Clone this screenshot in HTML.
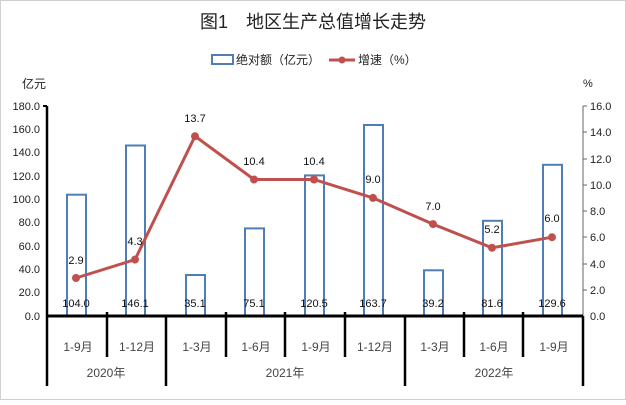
<!DOCTYPE html><html><head><meta charset="utf-8"><style>body{margin:0;background:#fff}</style></head><body>
<svg width="626" height="400" xmlns="http://www.w3.org/2000/svg" font-family="Liberation Sans, Noto Sans CJK SC, sans-serif">
<rect x="0.5" y="0.5" width="625" height="399" fill="#fff" stroke="#d0d0d0"/>
<text x="313" y="28" font-size="18" text-anchor="middle" fill="#222">图1　地区生产总值增长走势</text>
<rect x="212" y="55" width="21" height="9" fill="none" stroke="#4f7db5" stroke-width="2"/>
<text x="236" y="64" font-size="12" fill="#222">绝对额（亿元）</text>
<line x1="329" y1="60" x2="355" y2="60" stroke="#c0504d" stroke-width="3"/><circle cx="342" cy="60" r="3.5" fill="#c0504d"/>
<text x="358" y="64" font-size="12" fill="#222">增速（%）</text>
<text x="22" y="88" font-size="12" fill="#222">亿元</text>
<text x="583" y="87" font-size="11" fill="#222">%</text>
<g font-size="11" fill="#222" text-anchor="end">
<text x="40" y="110">180.0</text><text x="40" y="133">160.0</text><text x="40" y="156">140.0</text><text x="40" y="180">120.0</text><text x="40" y="203">100.0</text><text x="40" y="226">80.0</text><text x="40" y="250">60.0</text><text x="40" y="273">40.0</text><text x="40" y="296">20.0</text><text x="40" y="320">0.0</text>
</g>
<g font-size="11" fill="#222">
<text x="590" y="110">16.0</text><text x="590" y="136">14.0</text><text x="590" y="163">12.0</text><text x="590" y="189">10.0</text><text x="590" y="215">8.0</text><text x="590" y="241">6.0</text><text x="590" y="268">4.0</text><text x="590" y="294">2.0</text><text x="590" y="320">0.0</text>
</g>
<line x1="47" y1="106" x2="47" y2="316" stroke="#000" stroke-width="2.5"/>
<line x1="43" y1="106" x2="47" y2="106" stroke="#000" stroke-width="2"/>
<line x1="583" y1="106" x2="583" y2="316" stroke="#666" stroke-width="1"/>
<g stroke="#666"><line x1="583" y1="106" x2="587" y2="106"/><line x1="583" y1="132" x2="587" y2="132"/><line x1="583" y1="159" x2="587" y2="159"/><line x1="583" y1="185" x2="587" y2="185"/><line x1="583" y1="211" x2="587" y2="211"/><line x1="583" y1="237" x2="587" y2="237"/><line x1="583" y1="264" x2="587" y2="264"/><line x1="583" y1="290" x2="587" y2="290"/></g>
<g fill="none" stroke="#4f7db5" stroke-width="2">
<rect x="67" y="194.7" width="19" height="121.3"/>
<rect x="126" y="145.5" width="19" height="170.5"/>
<rect x="186" y="275" width="19" height="41"/>
<rect x="245" y="228.4" width="19" height="87.6"/>
<rect x="305" y="175.4" width="19" height="140.6"/>
<rect x="364" y="125" width="19" height="191"/>
<rect x="424" y="270.3" width="19" height="45.7"/>
<rect x="483" y="220.8" width="19" height="95.2"/>
<rect x="543" y="164.8" width="19" height="151.2"/>
</g>
<polyline points="76,278 135,259.6 195,136.2 254,179.5 314,179.5 373,197.9 433,224.1 492,247.8 552,237.2" fill="none" stroke="#c0504d" stroke-width="3"/>
<g fill="#c0504d"><circle cx="76" cy="278" r="4"/><circle cx="135" cy="259.6" r="4"/><circle cx="195" cy="136.2" r="4"/><circle cx="254" cy="179.5" r="4"/><circle cx="314" cy="179.5" r="4"/><circle cx="373" cy="197.9" r="4"/><circle cx="433" cy="224.1" r="4"/><circle cx="492" cy="247.8" r="4"/><circle cx="552" cy="237.2" r="4"/></g>
<g font-size="11" fill="#111" text-anchor="middle">
<text x="76" y="264">2.9</text><text x="135" y="245">4.3</text><text x="195" y="122">13.7</text><text x="254" y="165">10.4</text><text x="314" y="165">10.4</text><text x="373" y="183">9.0</text><text x="433" y="210">7.0</text><text x="492" y="233">5.2</text><text x="552" y="222">6.0</text>
<text x="76" y="307">104.0</text><text x="135" y="307">146.1</text><text x="195" y="307">35.1</text><text x="254" y="307">75.1</text><text x="314" y="307">120.5</text><text x="373" y="307">163.7</text><text x="433" y="307">39.2</text><text x="492" y="307">81.6</text><text x="552" y="307">129.6</text>
</g>
<line x1="46" y1="316" x2="583" y2="316" stroke="#000" stroke-width="3"/>
<g stroke="#000" stroke-width="2.5">
<line x1="47" y1="316" x2="47" y2="386"/><line x1="166" y1="316" x2="166" y2="386"/><line x1="405" y1="316" x2="405" y2="386"/><line x1="583" y1="316" x2="583" y2="386"/>
<line x1="107" y1="312" x2="107" y2="357"/><line x1="226" y1="312" x2="226" y2="357"/><line x1="285" y1="312" x2="285" y2="357"/><line x1="345" y1="312" x2="345" y2="357"/><line x1="464" y1="312" x2="464" y2="357"/><line x1="523" y1="312" x2="523" y2="357"/>
</g>
<g font-size="12" fill="#444" text-anchor="middle">
<text x="78" y="351">1-9月</text><text x="137" y="351">1-12月</text><text x="197" y="351">1-3月</text><text x="256" y="351">1-6月</text><text x="316" y="351">1-9月</text><text x="375" y="351">1-12月</text><text x="435" y="351">1-3月</text><text x="494" y="351">1-6月</text><text x="554" y="351">1-9月</text>
<text x="106" y="377">2020年</text><text x="285" y="377">2021年</text><text x="494" y="377">2022年</text>
</g>
</svg></body></html>
